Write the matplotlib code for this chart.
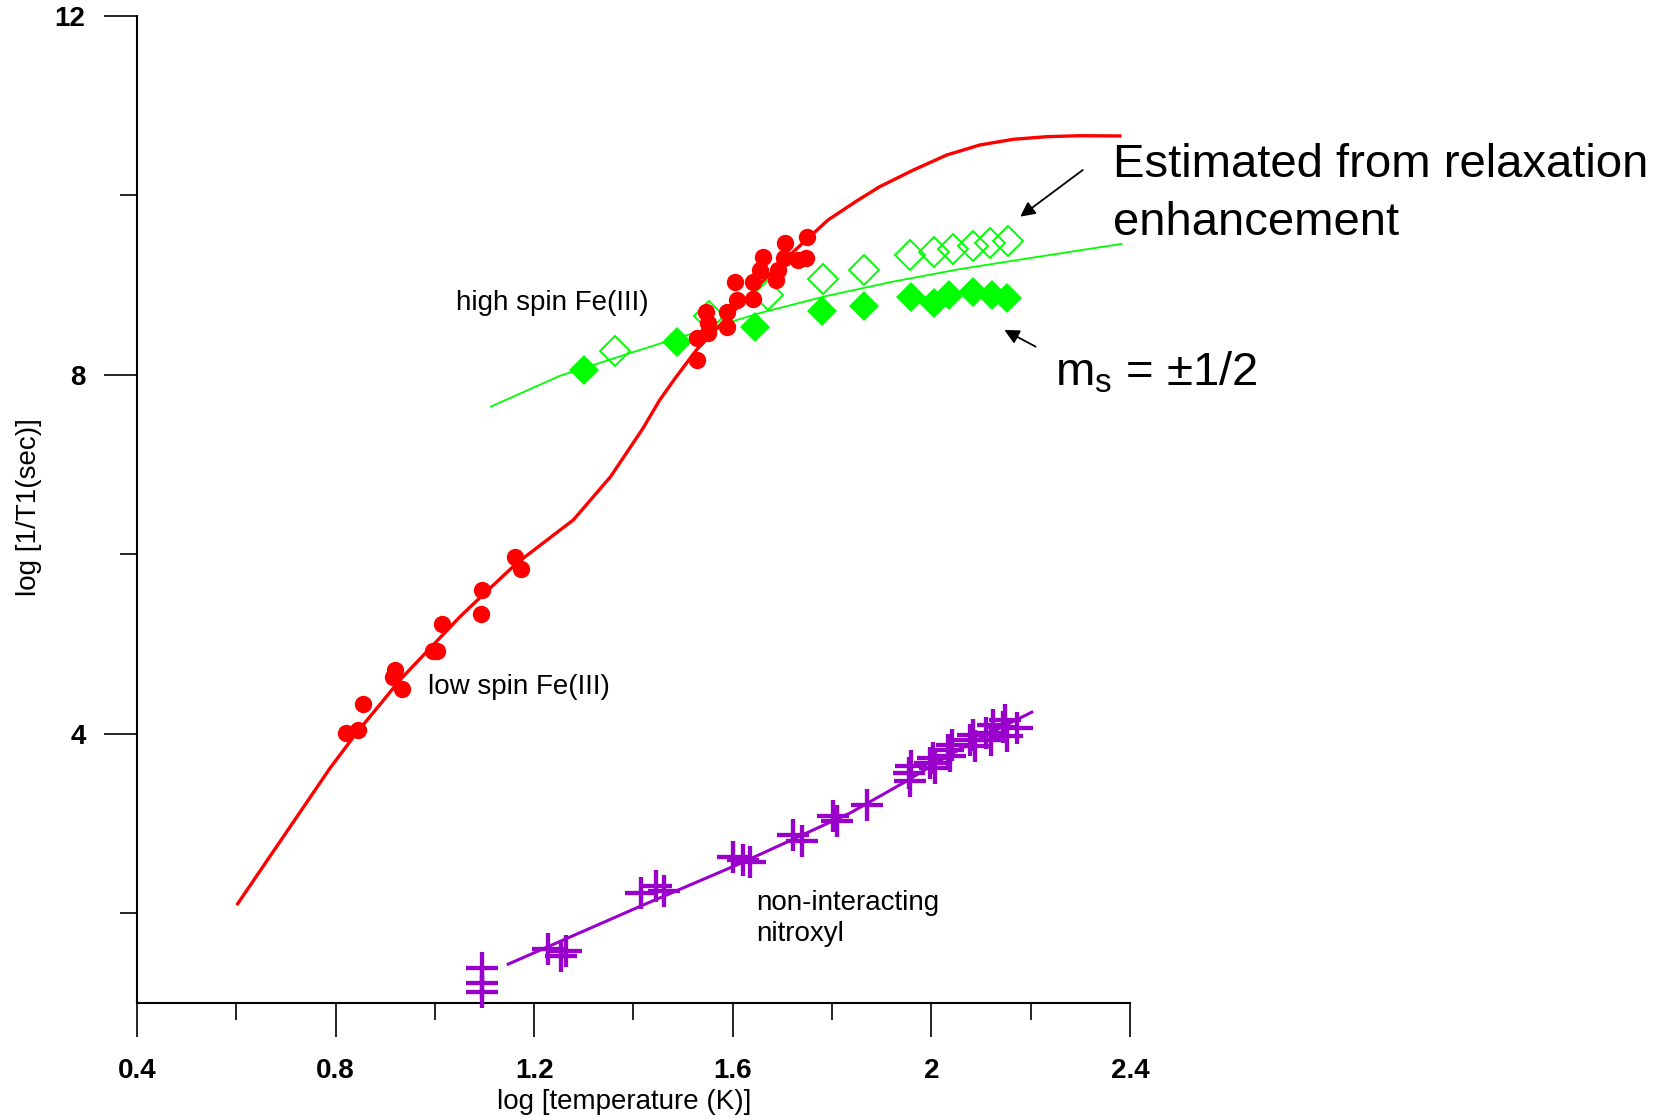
import matplotlib
matplotlib.use('Agg')
import matplotlib.pyplot as plt
from matplotlib.ticker import MultipleLocator, AutoMinorLocator, FuncFormatter

plt.rcParams['font.family'] = ['Liberation Sans', 'DejaVu Sans']
plt.rcParams['mathtext.default'] = 'regular'

# ---- data ----
# Fe(III) relaxation rates (red circles)
fe_x = [0.822, 0.846, 0.856, 0.916, 0.920, 0.933, 0.997, 1.005, 1.014, 1.093, 1.094,
        1.161, 1.173, 1.529, 1.529, 1.551, 1.547, 1.551, 1.588, 1.588, 1.608, 1.640,
        1.604, 1.641, 1.660, 1.655, 1.688, 1.692, 1.703, 1.705, 1.732, 1.747, 1.749]
fe_y = [4.008, 4.037, 4.331, 4.638, 4.713, 4.498, 4.925, 4.925, 5.226, 5.337, 5.605,
        5.969, 5.835, 8.167, 8.409, 8.465, 8.705, 8.576, 8.538, 8.705, 8.836, 8.843,
        9.040, 9.040, 9.311, 9.170, 9.058, 9.170, 9.300, 9.474, 9.281, 9.307, 9.534]

# Fe(III) fitted curve (red line)
fe_fit_x = [0.601, 0.789, 0.842, 0.889, 0.930, 0.997, 1.051, 1.097, 1.165, 1.279, 1.354,
            1.419, 1.453, 1.484, 1.527, 1.628, 1.688, 1.792, 1.850, 1.896, 1.964, 2.031,
            2.098, 2.165, 2.232, 2.299, 2.383]
fe_fit_y = [2.090, 3.618, 4.008, 4.323, 4.602, 4.992, 5.307, 5.549, 5.902, 6.384, 6.866,
            7.403, 7.721, 7.963, 8.279, 8.860, 9.200, 9.727, 9.940, 10.098, 10.284, 10.451,
            10.563, 10.626, 10.655, 10.666, 10.663]

# high spin Fe(III), ms = +-1/2 (filled green diamonds)
hs_x = [1.300, 1.488, 1.645, 1.779, 1.864, 1.960, 2.005, 2.036, 2.084, 2.123, 2.153]
hs_y = [8.056, 8.371, 8.531, 8.716, 8.769, 8.866, 8.806, 8.891, 8.928, 8.891, 8.855]

# estimated from relaxation enhancement (open green diamonds)
est_x = [1.363, 1.552, 1.670, 1.781, 1.864, 1.957, 2.005, 2.043, 2.083, 2.118, 2.155]
est_y = [8.271, 8.657, 8.891, 9.064, 9.170, 9.337, 9.374, 9.401, 9.437, 9.474, 9.496]

# green fitted line
hs_fit_x = [1.113, 1.252, 1.386, 1.488, 1.655, 1.789, 1.923, 2.058, 2.219, 2.383]
hs_fit_y = [7.647, 7.990, 8.230, 8.410, 8.690, 8.880, 9.040, 9.180, 9.320, 9.460]

# non-interacting nitroxyl (purple crosses)
nx_x = [1.095, 1.095, 1.095, 1.228, 1.255, 1.265, 1.416, 1.445, 1.462, 1.601, 1.620,
        1.635, 1.722, 1.739, 1.802, 1.809, 1.870, 1.954, 1.960, 1.957, 1.997, 2.007,
        2.004, 2.034, 2.041, 2.037, 2.078, 2.088, 2.084, 2.111, 2.121, 2.125, 2.145,
        2.152, 2.148, 2.172]
nx_y = [1.389, 1.222, 1.118, 1.600, 1.520, 1.580, 2.220, 2.300, 2.250, 2.626, 2.596,
        2.566, 2.875, 2.800, 3.079, 3.023, 3.209, 3.562, 3.636, 3.469, 3.673, 3.618,
        3.729, 3.822, 3.877, 3.747, 3.933, 3.859, 3.989, 4.008, 3.933, 4.100, 4.081,
        3.970, 4.156, 4.063]

# nitroxyl fitted line
nx_fit_x = [1.145, 1.413, 1.614, 1.836, 1.943, 2.037, 2.138, 2.205]
nx_fit_y = [1.426, 2.076, 2.552, 3.116, 3.451, 3.766, 4.063, 4.249]

x_ticks_fmt = '%g'

RED = '#FF0000'
GREEN = '#00FF00'
PURPLE = '#9900CC'

fig = plt.figure(figsize=(16.8, 11.2), dpi=100)
ax = fig.add_axes([0.0815, 0.1045, 0.5911, 0.8812])

ax.plot(hs_fit_x, hs_fit_y, color=GREEN, lw=1.3, zorder=2)
ax.plot(hs_x, hs_y, ls='none', marker='D', ms=15.5, mfc=GREEN, mec=GREEN, mew=0, zorder=3)
ax.plot(est_x, est_y, ls='none', marker='D', ms=15.0, mfc='none', mec=GREEN, mew=1.4, zorder=3)

ax.plot(fe_fit_x, fe_fit_y, color=RED, lw=2.4, zorder=4, solid_capstyle='butt',
        solid_joinstyle='round')
ax.plot(fe_x, fe_y, ls='none', marker='o', ms=12.5, mfc=RED, mec=RED, mew=0, zorder=5)

ax.plot(nx_fit_x, nx_fit_y, color=PURPLE, lw=2.2, zorder=4, solid_capstyle='butt')
ax.plot(nx_x, nx_y, ls='none', marker='+', ms=23, mec=PURPLE, mew=3.1, zorder=5, clip_on=False)

ax.set_xlim(0.4, 2.4)
ax.set_ylim(1.0, 12.0)

for s in ['top', 'right']:
    ax.spines[s].set_visible(False)
for s in ['left', 'bottom']:
    ax.spines[s].set_linewidth(1.5)

ax.xaxis.set_major_locator(MultipleLocator(0.4))
ax.xaxis.set_minor_locator(AutoMinorLocator(2))
ax.yaxis.set_major_locator(MultipleLocator(4))
ax.yaxis.set_minor_locator(AutoMinorLocator(2))
ax.xaxis.set_major_formatter(FuncFormatter(lambda v, p: x_ticks_fmt % round(v, 2)))
ax.yaxis.set_major_formatter(FuncFormatter(lambda v, p: x_ticks_fmt % round(v, 2)))

ax.tick_params(axis='x', which='major', direction='out', length=24.5, width=1.2, pad=15)
ax.tick_params(axis='x', which='minor', direction='out', length=12.5, width=1.2)
ax.tick_params(axis='y', which='major', direction='out', length=24, width=1.2, pad=13)
ax.tick_params(axis='y', which='minor', direction='out', length=12, width=1.2)
for lab in ax.get_xticklabels() + ax.get_yticklabels():
    lab.set_fontsize(20)
    lab.set_fontweight('bold')

fig.text(624 / 1680, 1 - 1109 / 1120, 'log [temperature (K)]', fontsize=20,
         ha='center', va='baseline')
fig.text(29 / 1680, 1 - 507 / 1120, 'log [1/T1(sec)]', fontsize=20,
         ha='center', va='center', rotation=90)

ax.text(1.0425, 8.724, 'high spin Fe(III)', fontsize=20, ha='left', va='baseline')
ax.text(0.9867, 4.446, 'low spin Fe(III)', fontsize=20, ha='left', va='baseline')
ax.text(1.648, 2.039, 'non-interacting', fontsize=20, ha='left', va='baseline')
ax.text(1.648, 1.686, 'nitroxyl', fontsize=20, ha='left', va='baseline')

ax.text(2.366, 10.203, 'Estimated from relaxation', fontsize=34, ha='left', va='baseline',
        clip_on=False)
ax.text(2.366, 9.560, 'enhancement', fontsize=34, ha='left', va='baseline', clip_on=False)
ax.text(2.2485, 7.885, r'm$_{s}$ = ±1/2', fontsize=34, ha='left', va='baseline', clip_on=False)

ax.annotate('', xy=(2.179, 9.764), xytext=(2.305, 10.284),
            arrowprops=dict(arrowstyle='-|>', mutation_scale=22, lw=1.3, color='black',
                            shrinkA=0, shrinkB=0), annotation_clip=False)
ax.annotate('', xy=(2.147, 8.501), xytext=(2.210, 8.315),
            arrowprops=dict(arrowstyle='-|>', mutation_scale=22, lw=1.3, color='black',
                            shrinkA=0, shrinkB=0), annotation_clip=False)

fig.savefig('out.png', dpi=100)
